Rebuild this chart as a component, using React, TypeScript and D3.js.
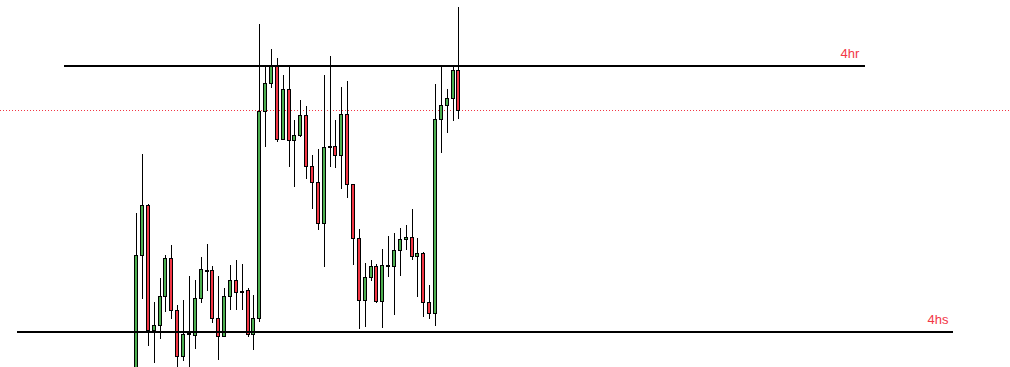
import React from "react";
import * as d3 from "d3";

// 4h candles, oldest first
const opens = [
  1.081, 1.0927, 1.0977, 1.0852, 1.0857, 1.0886, 1.0924, 1.0872, 1.0826, 1.0849,
  1.0847, 1.0884, 1.0912, 1.0912, 1.0864, 1.0846, 1.0886, 1.0902, 1.0891, 1.0892,
  1.0848, 1.0864, 1.1071, 1.1099, 1.1116, 1.1043, 1.1093, 1.1042, 1.1047, 1.1067,
  1.1016, 1.1, 1.0959, 1.1036, 1.1036, 1.1027, 1.1068, 1.0998, 1.0944, 1.0882,
  1.0905, 1.0916, 1.0881, 1.0917, 1.0916, 1.0932, 1.0943, 1.0945, 1.0926, 1.0929,
  1.088, 1.0869, 1.1063, 1.1077, 1.1084, 1.1112,
];
const highs = [
  1.0969, 1.1028, 1.0978, 1.088, 1.0904, 1.0927, 1.0937, 1.0877, 1.0882, 1.0906,
  1.0902, 1.0925, 1.0938, 1.0916, 1.0906, 1.0894, 1.0917, 1.0922, 1.0918, 1.0894,
  1.0887, 1.1158, 1.1116, 1.1133, 1.1124, 1.1107, 1.1115, 1.1062, 1.1082, 1.1076,
  1.1027, 1.1033, 1.1107, 1.1126, 1.1062, 1.1095, 1.1101, 1.0998, 1.0953, 1.0919,
  1.0922, 1.0918, 1.0933, 1.0946, 1.0949, 1.0954, 1.0957, 1.0973, 1.0944, 1.093,
  1.0897, 1.1098, 1.1116, 1.1093, 1.1116, 1.1175,
];
const lows = [
  1.0802, 1.0883, 1.0836, 1.0819, 1.0843, 1.087, 1.0863, 1.0814, 1.0821, 1.0812,
  1.0833, 1.0879, 1.0891, 1.0859, 1.0822, 1.0845, 1.0872, 1.0872, 1.0872, 1.0845,
  1.0832, 1.086, 1.1035, 1.1094, 1.104, 1.1042, 1.1015, 1.0995, 1.1045, 1.1003,
  1.0973, 1.0952, 1.0915, 1.1015, 1.1014, 1.0993, 1.0984, 1.0917, 1.0853, 1.0855,
  1.0901, 1.0879, 1.0854, 1.0905, 1.0867, 1.0906, 1.0932, 1.0922, 1.0885, 1.0865,
  1.0863, 1.0856, 1.1029, 1.1049, 1.1061, 1.1063,
];
const closes = [
  1.0927, 1.0977, 1.0852, 1.0857, 1.0886, 1.0924, 1.0872, 1.0826, 1.0848, 1.0849,
  1.0884, 1.0913, 1.0912, 1.0864, 1.0846, 1.0886, 1.0902, 1.089, 1.0891, 1.0848,
  1.0864, 1.1071, 1.1099, 1.1116, 1.1043, 1.1093, 1.1042, 1.1047, 1.1067, 1.1016,
  1.1, 1.0959, 1.1035, 1.1036, 1.1027, 1.1068, 1.0998, 1.0944, 1.0882, 1.0905,
  1.0916, 1.0881, 1.0917, 1.0917, 1.0932, 1.0943, 1.0945, 1.0926, 1.0929, 1.088,
  1.0869, 1.1063, 1.1077, 1.1084, 1.1112, 1.1072,
];

// horizontal levels
const levelNames = ["4hr", "4hs"];
const levelPrices = [1.1116, 1.085];

const width = 1010;
const height = 367;
const UP = "#4caf50";
const DOWN = "#f23645";

export default function App() {
  const idx = d3.range(opens.length).map(String);

  const x = d3
    .scaleBand()
    .domain(idx)
    .range([132.4, 462.2])
    .padding(0.3);

  const y = d3.scaleLinear().domain([1.085, 1.1116]).range([332, 66]);

  const cx = (i) => Math.round(x(String(i)) + x.bandwidth() / 2);
  const last = closes[closes.length - 1];

  // level line extents + label position
  const levelX = [
    [64, 865, 850],
    [17, 953, 938],
  ];

  return (
    <svg
      width={width}
      height={height}
      style={{ position: "absolute", left: 0, top: 0, background: "#fff" }}
    >
      {/* last price */}
      <line
        x1={0}
        x2={width}
        y1={Math.round(y(last)) + 0.5}
        y2={Math.round(y(last)) + 0.5}
        stroke={DOWN}
        strokeWidth={1}
        strokeDasharray="1,2"
      />

      {/* wicks */}
      {opens.map((o, i) => (
        <line
          key={"w" + i}
          x1={cx(i) + 0.5}
          x2={cx(i) + 0.5}
          y1={y(highs[i])}
          y2={y(lows[i])}
          stroke="#000"
          strokeWidth={1}
        />
      ))}

      {/* bodies */}
      {opens.map((o, i) => {
        const c = closes[i];
        const top = Math.round(y(Math.max(o, c))) + 0.5;
        const bot = Math.round(y(Math.min(o, c))) + 0.5;
        return (
          <rect
            key={"b" + i}
            x={cx(i) - 1.5}
            y={top}
            width={3}
            height={Math.max(1, bot - top)}
            fill={c >= o ? UP : DOWN}
            stroke="#000"
            strokeWidth={1}
          />
        );
      })}

      {levelPrices.map((p, i) => (
        <g key={levelNames[i]}>
          <line
            x1={levelX[i][0]}
            x2={levelX[i][1]}
            y1={y(p)}
            y2={y(p)}
            stroke="#000"
            strokeWidth={2}
          />
          <text
            x={levelX[i][2]}
            y={y(p) - 8}
            textAnchor="middle"
            fill={DOWN}
            fontFamily="Liberation Sans, Arial, sans-serif"
            fontSize={13}
          >
            {levelNames[i]}
          </text>
        </g>
      ))}
    </svg>
  );
}
